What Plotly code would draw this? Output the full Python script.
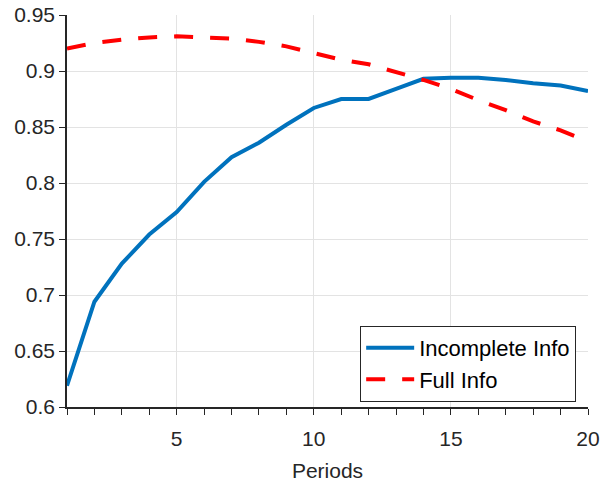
import plotly.graph_objects as go

periods = list(range(1, 21))
incomplete_info = [0.619, 0.694, 0.728, 0.754, 0.774, 0.801, 0.823, 0.836, 0.852, 0.867,
                   0.875, 0.875, 0.884, 0.893, 0.894, 0.894, 0.892, 0.889, 0.887, 0.882]
full_info = [0.920, 0.925, 0.928, 0.930, 0.931, 0.930, 0.929, 0.926, 0.922, 0.916,
             0.910, 0.906, 0.899, 0.892, 0.884, 0.874, 0.865, 0.855, 0.847, 0.837]
x_ticks = [5, 10, 15, 20]
y_ticks = [0.6, 0.65, 0.7, 0.75, 0.8, 0.85, 0.9, 0.95]
y_tick_labels = ["0.6", "0.65", "0.7", "0.75", "0.8", "0.85", "0.9", "0.95"]

FONT = "Liberation Sans, Arial, sans-serif"
AX = "#262626"
GRID = "#e3e3e3"

fig = go.Figure()
fig.add_trace(go.Scatter(x=periods, y=incomplete_info, mode="lines", name="Incomplete Info",
                         line=dict(color="#0072BD", width=4)))
fig.add_trace(go.Scatter(x=periods, y=full_info, mode="lines", name="Full Info",
                         line=dict(color="#FF0000", width=4, dash="19px,17px")))

fig.update_layout(
    width=604, height=482,
    margin=dict(l=67, r=16, t=15, b=75, autoexpand=False),
    paper_bgcolor="white", plot_bgcolor="white",
    font=dict(family=FONT, size=21, color=AX),
    showlegend=True,
    legend=dict(x=0.77, y=0.11, xanchor="center", yanchor="middle",
                bgcolor="white", bordercolor=AX, borderwidth=1,
                font=dict(family=FONT, size=22, color="black"),
                tracegroupgap=0, itemwidth=48),
    xaxis=dict(range=[1, 20], tickmode="array", tickvals=x_ticks,
               showgrid=True, gridcolor=GRID, gridwidth=1,
               showline=True, linecolor=AX, linewidth=1.5, ticks="outside", ticklen=6,
               tickcolor=AX, tickfont=dict(size=21, color=AX), zeroline=False, automargin=False,
               ticklabelstandoff=6, ticklabeloverflow="allow",
               minor=dict(dtick=1, tick0=0, ticks="outside", ticklen=6, tickcolor=AX, showgrid=False),
               title=dict(text="Periods", font=dict(size=21, color=AX), standoff=26)),
    yaxis=dict(range=[0.6, 0.95], tickmode="array", tickvals=y_ticks, ticktext=y_tick_labels,
               showgrid=True, gridcolor=GRID, gridwidth=1,
               showline=True, linecolor=AX, linewidth=1.5, ticks="outside", ticklen=6,
               tickcolor=AX, tickfont=dict(size=21, color=AX), zeroline=False, automargin=False,
               ticklabeloverflow="allow"),
)

# remove the browser's default 8px body margin so the figure fills the window exactly
fig.write_html("out.html",
               config={"displayModeBar": False},
               post_script="document.body.style.margin='0';document.body.style.overflow='hidden';")
